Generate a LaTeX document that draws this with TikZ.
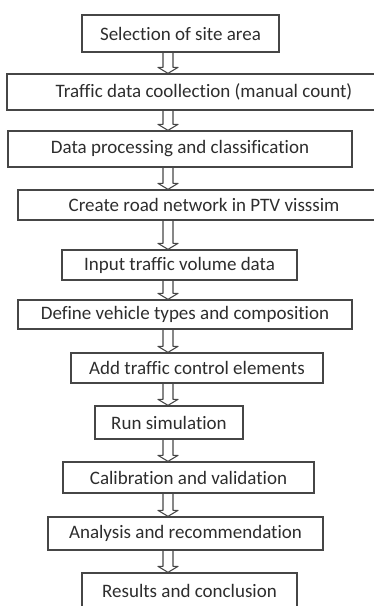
\documentclass[tikz,border=0pt]{standalone}
\usepackage{fontspec}
\setmainfont{Carlito}[Ligatures=NoCommon]
\usetikzlibrary{calc}
\definecolor{boxgray}{RGB}{70,70,70}
\definecolor{textgray}{RGB}{45,45,45}
\tikzstyle{stepbox} = [draw=boxgray, line width=1.3pt, inner sep=0pt, text=textgray, font=\fontsize{19}{22}\selectfont]
\tikzstyle{flow} = [draw=boxgray, line width=1.1pt, line join=round]
% hollow down arrow from one box to the next
\newcommand{\flowarrow}[2]{\draw [flow] ($(#1.south -| ax)+(-5,0)$) -- ($(#2.north -| ax)+(-5,-6)$) -- ++(-5,0) -- (#2.north -| ax) -- ++(10,-6) -- ++(-5,0) -- ($(#1.south -| ax)+(5,0)$);}

\begin{document}
\begin{tikzpicture}[x=1pt, y=-1pt]
	  \useasboundingbox (0,0) rectangle (374,606);
	  \clip (0,0) rectangle (374,606);
	  \coordinate (ax) at (168,0);

	  \node (sel) at (180.5,33.5) [stepbox, minimum width=197, minimum height=37] {Selection of site area};
	  \node (coll) at (204,92) [stepbox, minimum width=394, minimum height=36] {Traffic data coollection (manual count)};
	  \node (proc) at (180,149) [stepbox, minimum width=344, minimum height=36] {Data processing and classification};
	  \node (net) at (204,205) [stepbox, minimum width=372, minimum height=30] {Create road network in PTV visssim};
	  \node (vol) at (179.5,265) [stepbox, minimum width=235, minimum height=30] {Input traffic volume data};
	  \node (veh) at (185,314.5) [stepbox, minimum width=334, minimum height=29] {Define vehicle types and composition};
	  \node (ctrl) at (197,368) [stepbox, minimum width=252, minimum height=30] {Add traffic control elements};
	  \node (run) at (169,422.5) [stepbox, minimum width=148, minimum height=33] {Run simulation};
	  \node (cal) at (188.5,477.5) [stepbox, minimum width=251, minimum height=31] {Calibration and validation};
	  \node (ana) at (185.5,533.5) [stepbox, minimum width=275, minimum height=33] {Analysis and recommendation};
	  \node (res) at (189.5,591) [stepbox, minimum width=215, minimum height=36] {Results and conclusion};

	  \flowarrow{sel}{coll}
	  \flowarrow{coll}{proc}
	  \flowarrow{proc}{net}
	  \flowarrow{net}{vol}
	  \flowarrow{vol}{veh}
	  \flowarrow{veh}{ctrl}
	  \flowarrow{ctrl}{run}
	  \flowarrow{run}{cal}
	  \flowarrow{cal}{ana}
	  \flowarrow{ana}{res}
	\end{tikzpicture}
\end{document}
